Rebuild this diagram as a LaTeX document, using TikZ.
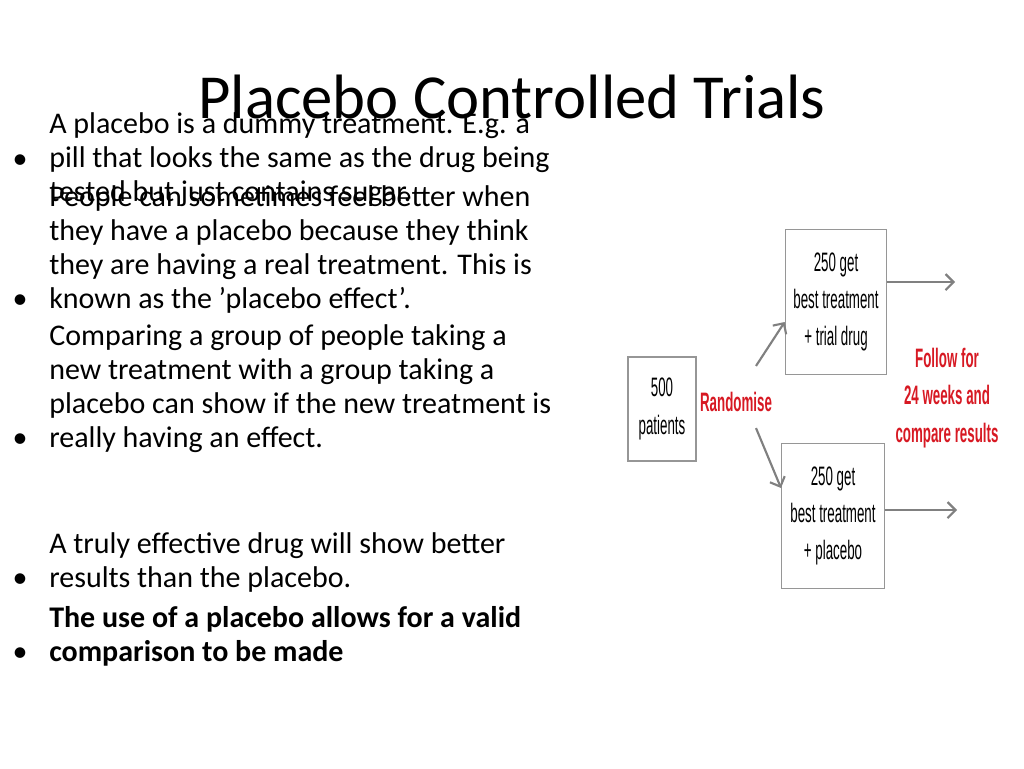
\documentclass[tikz,border=0pt]{standalone}
\usepackage{fontspec}
\setmainfont{Carlito}
\newfontfamily\narrowfont[FakeStretch=0.5]{Liberation Sans}
\usetikzlibrary{positioning,arrows.meta}
\definecolor{arrowgrey}{RGB}{128,128,128}
\definecolor{boxgrey}{RGB}{150,150,150}
\definecolor{randred}{RGB}{215,25,35}

\begin{document}
\begin{tikzpicture}[x=0.75pt,y=-0.75pt]
\tikzstyle{every node}+=[inner sep=0pt]
\tikzstyle{bullet}=[anchor=base west, align=left, font=\fontsize{22.5}{25.5}\selectfont]
\tikzstyle{dot}=[anchor=base, font=\fontsize{22.5}{25.5}\selectfont]
\tikzstyle{flowbox}=[draw=boxgrey, line width=1pt, align=center, font=\narrowfont\fontsize{20}{28}\selectfont]
\tikzstyle{redtext}=[text=randred, align=center, font=\narrowfont\bfseries\fontsize{20}{28}\selectfont]
\tikzstyle{flowarrow}=[draw=arrowgrey, line width=1.6pt, -{Straight Barb[length=6pt,width=12pt]}]
\useasboundingbox (0,0) rectangle (1024,768);
% title
\node (title) at (512,97) {\fontsize{47}{56}\selectfont Placebo Controlled Trials};
% bullet points
\node[dot] (d0) at (20,168) {•};
\node[bullet] (b0) at (49,201) {A placebo is a dummy treatment. E.g. a\\pill that looks the same as the drug being\\tested but just contains sugar.};
\node[dot] (d1) at (20,308) {•};
\node[bullet] (b1) at (49,308) {People can sometimes feel better when\\they have a placebo because they think\\they are having a real treatment. This is\\known as the \symbol{39}placebo effect\symbol{39}.};
\node[dot] (d2) at (20,447) {•};
\node[bullet] (b2) at (49,447) {Comparing a group of people taking a\\new treatment with a group taking a\\placebo can show if the new treatment is\\really having an effect.};
\node[dot] (d3) at (20,587) {•};
\node[bullet] (b3) at (49,587) {A truly effective drug will show better\\results than the placebo.};
\node[dot] (d4) at (20,661) {•};
\node[bullet] (b4) at (49,661) {\bfseries The use of a placebo allows for a valid\\\bfseries comparison to be made};
% flow chart
\node[flowbox, minimum width=51pt, minimum height=78pt] (patients) at (662,409) {500\\patients};
\node[flowbox, minimum width=76pt, minimum height=109pt] (trial) at (836,302) {250 get\\best treatment\\+ trial drug};
\node[flowbox, minimum width=77pt, minimum height=109pt] (placebo) at (833,516) {250 get\\best treatment\\+ placebo};
\node[redtext] (randomise) at (736,402) {Randomise};
\node[redtext] (follow) at (947,398) {Follow for\\24 weeks and\\compare results};
\coordinate (endtop) at (955,282);
\coordinate (endbot) at (957,510);
\draw[flowarrow] (randomise.north) ++(20,-26) -- (trial.west |- 0,322);
\draw[flowarrow] (randomise.south) ++(20,16) -- (placebo.west |- 0,488);
\draw[flowarrow] (trial.east |- endtop) -- (endtop);
\draw[flowarrow] (placebo.east |- endbot) -- (endbot);
\end{tikzpicture}
\end{document}
